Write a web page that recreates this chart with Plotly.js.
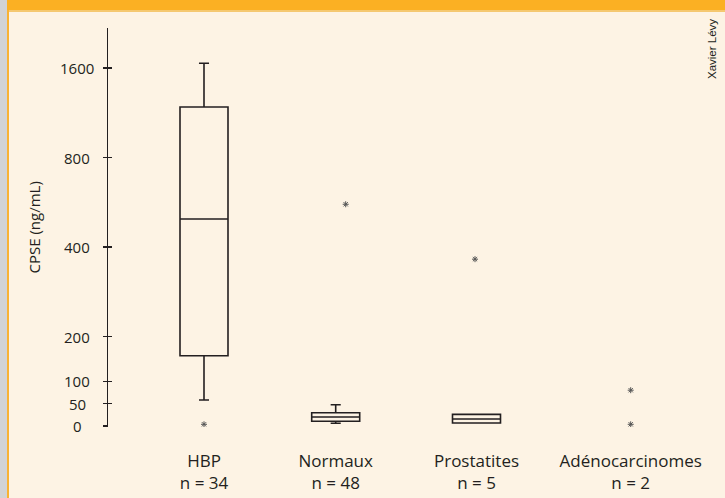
<!DOCTYPE html>
<html>
<head>
<meta charset="utf-8">
<script src="https://cdn.plot.ly/plotly-3.0.1.min.js"></script>
<style>
  html, body { margin: 0; padding: 0; background: #fdf3e4; }
  #wrap { position: relative; width: 725px; height: 498px; overflow: hidden; background: #fdf3e4; }
  #grey { position: absolute; left: 0; top: 0; width: 7px; height: 498px; background: #d2d3d5; }
  #oline { position: absolute; left: 7px; top: 0; width: 2px; height: 498px; background: #f9b233; }
  #top { position: absolute; left: 7px; top: 0; width: 718px; height: 10px; background: #fbb023; }
  #top2 { position: absolute; left: 9px; top: 10px; width: 716px; height: 2px; background: #f5c870; }
  #chart { position: absolute; left: 0; top: 0; width: 725px; height: 498px; }
</style>
</head>
<body>
<div id="wrap">
  <div id="grey"></div><div id="oline"></div><div id="top"></div><div id="top2"></div>
  <div id="chart"></div>
</div>
<script>
// ---- data (ng/mL) ----
var categories = ["HBP", "Normaux", "Prostatites", "Adénocarcinomes"];
var counts = [34, 48, 5, 2];
var q1Vals = [157, 10.5, 6.7];
var medianVals = [497, 20, 15.6];
var q3Vals = [1183, 29.7, 26];
var lowerWhisker = [58, 6, 6.7];
var upperWhisker = [1660, 47.6, 26];
// outliers: category index, value
var outlierCat = [0, 1, 2, 3, 3];
var outlierVal = [3.8, 557, 364, 80, 3.8];
var outlierShift = [0, 0.1, -0.015, 0, 0];
var tickValues = [0, 50, 100, 200, 400, 800, 1600];
var tickLabels = ["0", "50", "100", "200", "400", "800", "1600"];

// ---- layout helpers ----
var catPos = [0.96, 2.277, 3.685, 5.227];
// axis scale: linear up to 200, then one unit per doubling
function f(v) { return v <= 200 ? v / 200 : 1 + Math.log(v / 200) / Math.LN2; }

var ink = "#231f20";
var traces = [];
for (var i = 0; i < 3; i++) {
  traces.push({
    type: "box",
    x: [catPos[i]],
    q1: [f(q1Vals[i])],
    median: [f(medianVals[i])],
    q3: [f(q3Vals[i])],
    lowerfence: [f(lowerWhisker[i])],
    upperfence: [f(upperWhisker[i])],
    width: 0.48,
    whiskerwidth: 0.21,
    boxpoints: false,
    fillcolor: "rgba(0,0,0,0)",
    line: { color: ink, width: 1.6 },
    hoverinfo: "skip",
    showlegend: false
  });
}
traces.push({
  type: "scatter",
  mode: "markers",
  x: outlierCat.map(function (c, k) { return catPos[c] + outlierShift[k]; }),
  y: outlierVal.map(f),
  marker: { symbol: "asterisk-open", size: 5, color: "#555", line: { color: "#555", width: 1 } },
  hoverinfo: "skip",
  showlegend: false
});
traces.push({ type: "scatter", x: [], y: [], yaxis: "y2", showlegend: false, hoverinfo: "skip" });

var tickText = categories.map(function (c, i) { return c + "<br>n = " + counts[i]; });

var annotations = [
  { text: "CPSE (ng/mL)", xref: "paper", yref: "paper", x: (33 - 108) / 592, y: 0.5,
    textangle: -90, showarrow: false, xanchor: "center", yanchor: "middle",
    font: { size: 15, color: ink } },
  { text: "Xavier Lévy", xref: "paper", yref: "paper", x: (712 - 108) / 592, y: (427 - 49) / 399,
    textangle: -90, showarrow: false, xanchor: "center", yanchor: "middle",
    font: { size: 11.5, color: ink, family: "Liberation Sans, Arial, sans-serif" } }
];
tickValues.forEach(function (v, i) {
  annotations.push({ text: tickLabels[i], xref: "paper", yref: "y", x: (77 - 108) / 592, y: f(v),
    showarrow: false, xanchor: "center", yanchor: "middle", font: { size: 15, color: ink } });
});

var layout = {
  width: 725, height: 498,
  margin: { l: 108, r: 25, t: 28, b: 71 },
  paper_bgcolor: "rgba(0,0,0,0)",
  plot_bgcolor: "rgba(0,0,0,0)",
  font: { family: "Open Sans, sans-serif", color: ink },
  showlegend: false,
  xaxis: {
    range: [0, 5.92], showgrid: false, zeroline: false, showline: false,
    tickmode: "array", tickvals: catPos, ticktext: tickText, ticks: "",
    tickfont: { size: 17, color: ink }, ticklabelstandoff: 22
  },
  yaxis: {
    range: [-0.0112, 4.447], showgrid: false, zeroline: false,
    showline: true, linecolor: ink, linewidth: 1.2,
    tickmode: "array", tickvals: tickValues.map(f), showticklabels: false,
    ticks: "outside", ticklen: 4, tickwidth: 1.2, tickcolor: ink
  },
  yaxis2: {
    overlaying: "y", matches: "y", side: "left", anchor: "x",
    showgrid: false, zeroline: false, showline: false,
    tickmode: "array", tickvals: tickValues.map(f), showticklabels: false,
    ticks: "inside", ticklen: 4, tickwidth: 1.2, tickcolor: ink
  },
  annotations: annotations
};

Plotly.newPlot("chart", traces, layout, { displayModeBar: false, staticPlot: true });
</script>
</body>
</html>
